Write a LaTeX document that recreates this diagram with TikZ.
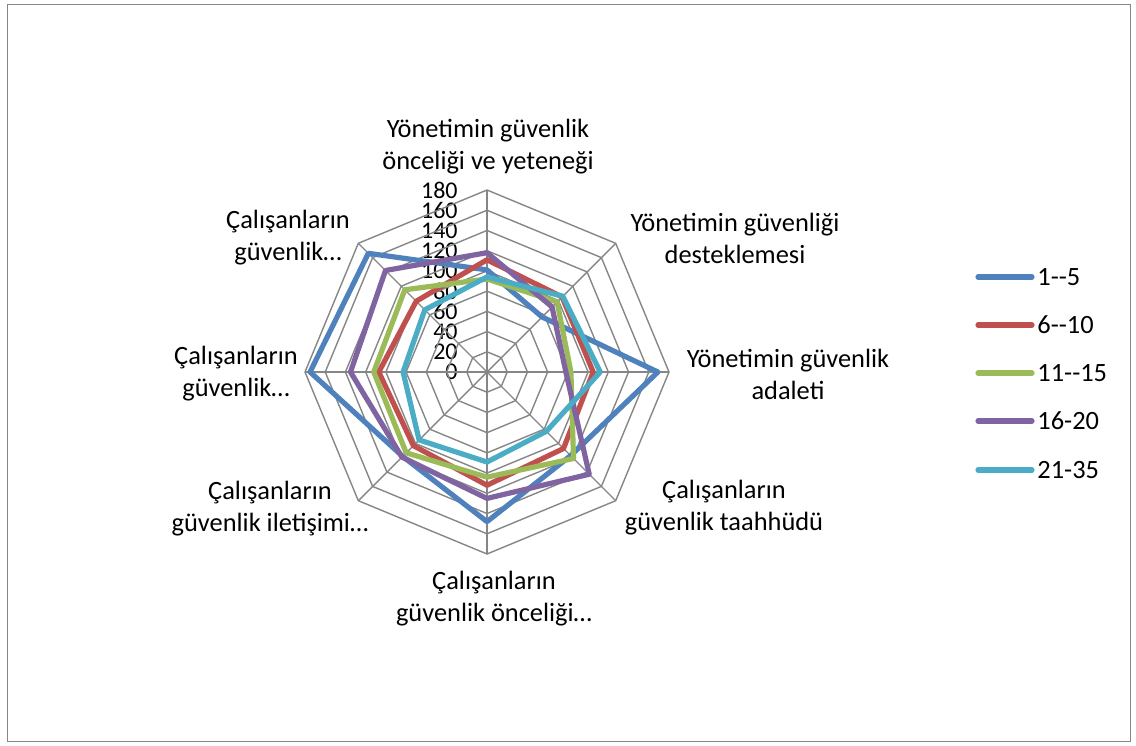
\documentclass[tikz,border=0pt]{standalone}
\usepackage{fontspec}
\setmainfont{Carlito}
\begin{document}
\begin{tikzpicture}[x=0.5pt,y=-0.5pt,
  grid/.style={draw=gridc, line width=0.7pt},
  ser/.style={line width=2.6pt, line join=round},
  lab/.style={align=center, inner sep=0pt, font=\fontsize{13.2}{16}\selectfont},
  tick/.style={anchor=east, inner sep=0pt, font=\fontsize{12}{13}\selectfont},
  leg/.style={line width=2.6pt, line cap=round}]
\definecolor{cA}{HTML}{4F81BD}
\definecolor{cB}{HTML}{C0504D}
\definecolor{cC}{HTML}{9BBB59}
\definecolor{cD}{HTML}{8064A2}
\definecolor{cE}{HTML}{4BACC6}
\definecolor{gridc}{HTML}{868686}
\path[use as bounding box] (0,0) rectangle (1136,745);
\draw[draw=gridc, line width=0.5pt] (7,4) rectangle (1130,741);
\def\cx{487}\def\cy{372}\def\sc{1.0111}
% tick labels
\foreach \t in {0,20,...,180}
  \node[tick] (t\t) at (458,{\cy-\sc*\t}) {\t};
% grid rings
\foreach \r in {20,40,...,180}{
  \foreach \i in {0,...,7}
    \coordinate (g\r-\i) at ({\cx+\sc*\r*sin(45*\i)},{\cy-\sc*\r*cos(45*\i)});
  \draw[grid] (g\r-0)--(g\r-1)--(g\r-2)--(g\r-3)--(g\r-4)--(g\r-5)--(g\r-6)--(g\r-7)--cycle;
}
\coordinate (O) at (\cx,\cy);
\foreach \i in {0,...,7} \draw[grid] (O)--(g180-\i);
% series
\newcommand\radarser[3]{%
  \foreach \v [count=\i from 0] in {#2}
    \coordinate (#1-\i) at ({\cx+\sc*\v*sin(45*\i)},{\cy-\sc*\v*cos(45*\i)});
  \draw[ser,#3] (#1-0)--(#1-1)--(#1-2)--(#1-3)--(#1-4)--(#1-5)--(#1-6)--(#1-7)--cycle;}
\radarser{sA}{101,77,169,117,148,118,175,166}{cA}
\radarser{sB}{111,105,105,107,112,103,107,99}{cB}
\radarser{sC}{92,98,83,121,104,113,112,115}{cC}
\radarser{sD}{118,91,78,143,125,119,135,142}{cD}
\radarser{sE}{94,106,112,83,89,95,83,87}{cE}
% axis labels
\node[lab] (l0) at (488,147) {Yönetimin güvenlik\\önceliği ve yeteneği};
\node[lab] (l1) at (735,238) {Yönetimin güvenliği\\desteklemesi};
\node[lab] (l2) at (788,374) {Yönetimin güvenlik\\adaleti};
\node[lab] (l3) at (724,508) {Çalışanların\\güvenlik taahhüdü};
\node[lab] (l4) at (494,599) {Çalışanların\\güvenlik önceliği…};
\node[lab] (l5) at (270,509) {Çalışanların\\güvenlik iletişimi…};
\node[lab] (l6) at (236,374) {Çalışanların\\güvenlik…};
\node[lab] (l7) at (288,238) {Çalışanların\\güvenlik…};
% legend
\foreach \n/\c/\y/\t in {a/cA/277/{1-{}-5},b/cB/325/{6-{}-10},c/cC/373/{11-{}-15},d/cD/421/{16-20},e/cE/470/{21-35}}{
  \coordinate (la\n) at (978,\y);
  \coordinate (lb\n) at (1032,\y);
  \draw[leg,\c] (la\n)--(lb\n);
  \node[lab, anchor=west] (lt\n) at (1037,\y) {\t};
}
\end{tikzpicture}
\end{document}
